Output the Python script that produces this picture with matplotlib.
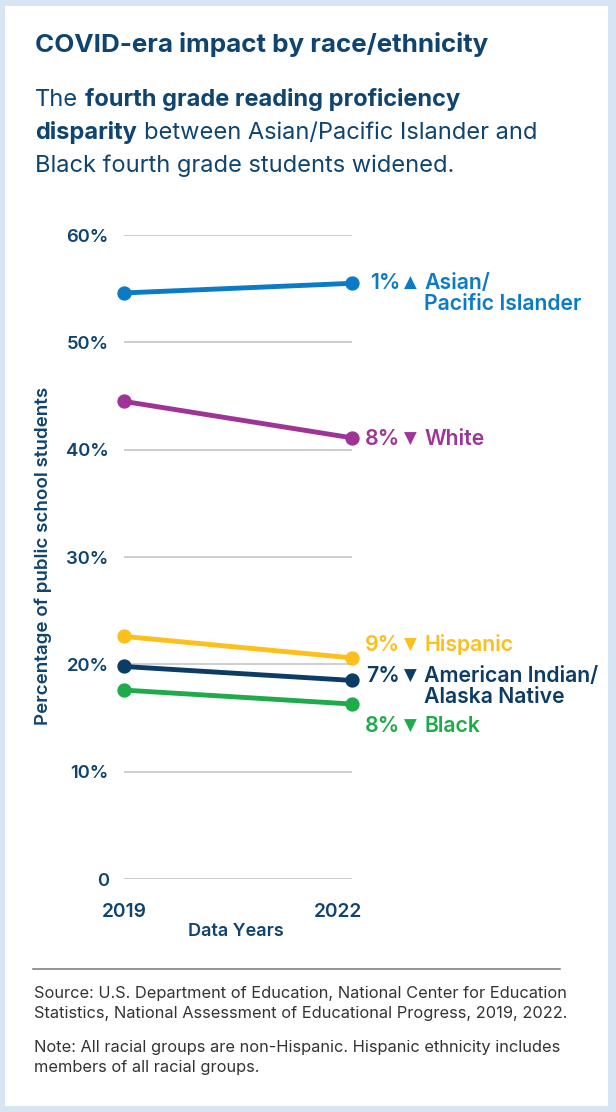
import numpy as np
import matplotlib
matplotlib.use("Agg")
import matplotlib.pyplot as plt
from matplotlib.patches import Rectangle
from matplotlib.lines import Line2D
import matplotlib.transforms as mtransforms

plt.rcParams['font.family'] = ['Inter', 'DejaVu Sans']

# -----------------------------
# Data
# -----------------------------
years = [2019, 2022]
groups = ["Asian/\nPacific Islander", "White", "Hispanic",
          "American Indian/\nAlaska Native", "Black"]
values_2019 = [54.6, 44.5, 22.6, 19.8, 17.6]
values_2022 = [55.5, 41.1, 20.6, 18.5, 16.3]
change_pct = ["1%", "8%", "9%", "7%", "8%"]
direction = ["up", "down", "down", "down", "down"]
colors = ["#0a7bc4", "#9e3496", "#fcbf1c", "#0c3c66", "#1fab4b"]
# vertical nudge of the end labels (points)
label_nudge = [0.5, -1, 9.5, 3, -16]

y_ticks = [0, 10, 20, 30, 40, 50, 60]
y_ticklabels = ["0", "10%", "20%", "30%", "40%", "50%", "60%"]

NAVY = "#0f4470"
W, H = 616, 1112
PT = 0.72  # points per pixel at 100 dpi

fig = plt.figure(figsize=(W / 100, H / 100), dpi=100)
fig.patch.set_facecolor("#d6e4f4")
fig.patches.append(Rectangle((5 / W, 6 / H), 603 / W, 1100 / H, transform=fig.transFigure,
                             facecolor="white", edgecolor="none", zorder=-10))

# -----------------------------
# Title / subtitle
# -----------------------------
fig.text(35 / W, 1 - 52 / H, "COVID-era impact by race/ethnicity", fontsize=18.7,
         fontweight="bold", color=NAVY, va="baseline", ha="left")

SUB_FS = 17
sub_lines = [
    [("The ", "normal"), ("fourth grade reading proficiency", "bold")],
    [("disparity", "bold"), (" between Asian/Pacific Islander and", "normal")],
    [("Black fourth grade students widened.", "normal")],
]
fig.canvas.draw()
renderer = fig.canvas.get_renderer()
for i, parts in enumerate(sub_lines):
    x = 35 / W
    y = 1 - (106 + 33 * i) / H
    for txt, wt in parts:
        lead = len(txt) - len(txt.lstrip(" "))
        trail = len(txt) - len(txt.rstrip(" "))
        sp = fig.text(0, 0, "a a", fontsize=SUB_FS, fontweight=wt)
        sp2 = fig.text(0, 0, "aa", fontsize=SUB_FS, fontweight=wt)
        space_w = (sp.get_window_extent(renderer).width - sp2.get_window_extent(renderer).width) / W
        sp.remove(); sp2.remove()
        x += lead * space_w
        t = fig.text(x, y, txt.strip(" "), fontsize=SUB_FS, fontweight=wt, color=NAVY,
                     ha="left", va="baseline")
        x += t.get_window_extent(renderer).width / W + trail * space_w

# -----------------------------
# Chart
# -----------------------------
ax = fig.add_axes([124 / W, 1 - 879 / H, 228 / W, 644 / H])
ax.set_facecolor("none")
ax.set_xlim(years[0], years[1])
ax.set_ylim(0, 60)
for s in ax.spines.values():
    s.set_visible(False)
ax.set_yticks(y_ticks)
ax.set_yticklabels(y_ticklabels, fontsize=13.3, fontweight="semibold", color=NAVY)
ax.tick_params(axis="y", length=0, pad=11)
ax.set_xticks([])
ax.grid(axis="y", color="#c9c9c9", linewidth=1.3)
ax.set_axisbelow(True)

LBL_FS = 15.3
for i in range(len(groups)):
    ax.plot(years, [values_2019[i], values_2022[i]], color=colors[i], linewidth=3.5,
            marker="o", markersize=9.3, clip_on=False, zorder=3 + (4 - i) * 0.1)
    ypos = values_2022[i]

    def tr(dx, dy=0):
        return mtransforms.offset_copy(ax.transData, fig=fig, x=dx * PT,
                                       y=label_nudge[i] + dy * PT, units="points")

    ax.text(years[1], ypos, change_pct[i], ha="right", va="center", clip_on=False,
            fontsize=LBL_FS, fontweight="semibold", color=colors[i], transform=tr(48))
    tri = "\u25B2" if direction[i] == "up" else "\u25BC"
    ax.text(years[1], ypos, tri, ha="center", va="center", clip_on=False,
            fontsize=12, family=["DejaVu Sans"], color=colors[i], transform=tr(58, 0))
    for j, nm in enumerate(groups[i].split("\n")):
        ax.text(years[1], ypos, nm, ha="left", va="center", clip_on=False,
                fontsize=LBL_FS, fontweight="semibold", color=colors[i],
                transform=tr(72, -21 * j))

# x labels
xt = mtransforms.blended_transform_factory(ax.transData, fig.transFigure)
ax.text(years[0], 1 - 912 / H, "2019", transform=xt, ha="center", va="center",
        fontsize=13.8, fontweight="semibold", color=NAVY)
ax.text(years[1], 1 - 912 / H, "2022",
        transform=mtransforms.offset_copy(xt, fig=fig, x=10 * PT, y=0, units="points"),
        ha="right", va="center", fontsize=13.8, fontweight="semibold", color=NAVY)
fig.text(236 / W, 1 - 932 / H, "Data Years", ha="center", va="center",
         fontsize=13, fontweight="semibold", color=NAVY)
fig.text(43 / W, 1 - 556 / H, "Percentage of public school students", rotation=90,
         ha="center", va="center", fontsize=13.5, fontweight="semibold", color=NAVY)

# -----------------------------
# Footer
# -----------------------------
fig.lines.append(Line2D([33 / W, 560 / W], [1 - 969 / H, 1 - 969 / H], transform=fig.transFigure,
                        color="#777777", linewidth=1.1))
foot = [
    ("Source: U.S. Department of Education, National Center for Education", 998),
    ("Statistics, National Assessment of Educational Progress, 2019, 2022.", 1018),
    ("Note: All racial groups are non-Hispanic. Hispanic ethnicity includes", 1052),
    ("members of all racial groups.", 1072),
]
for txt, yy in foot:
    fig.text(34 / W, 1 - yy / H, txt, ha="left", va="baseline", fontsize=11.8, color="#333333")

fig.savefig("out.png", dpi=100, facecolor=fig.get_facecolor())
